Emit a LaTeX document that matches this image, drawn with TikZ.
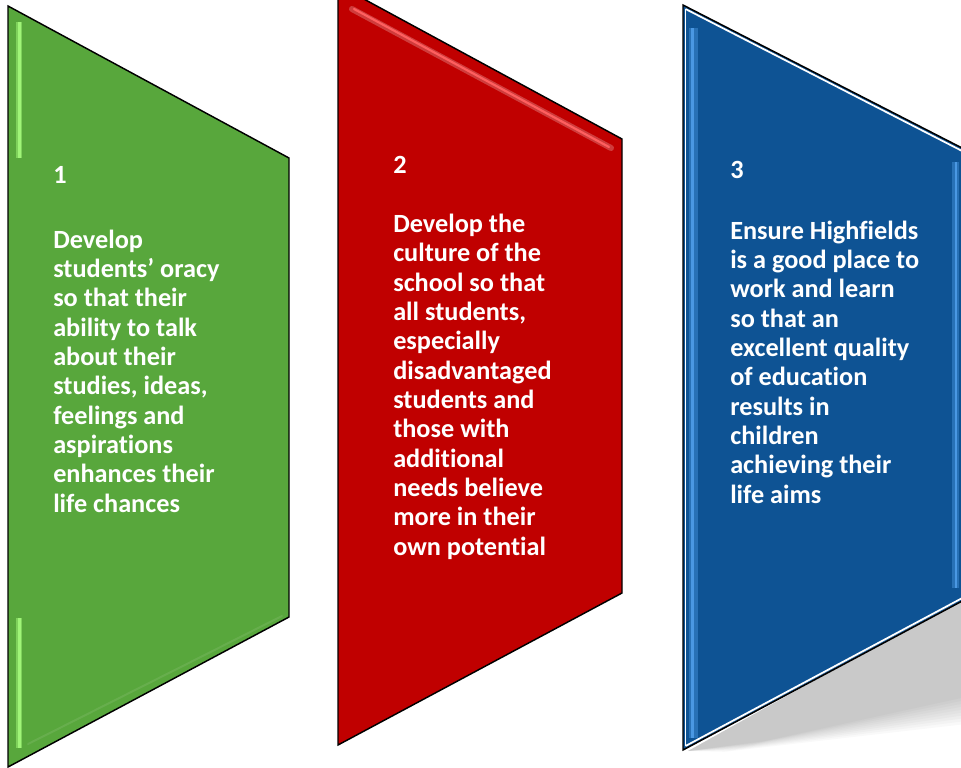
\documentclass[tikz,border=0pt]{standalone}
\usepackage{fontspec}
\setmainfont{Carlito}[Ligatures=NoCommon]
\definecolor{gfill}{RGB}{88,167,60}
\definecolor{glight}{RGB}{160,245,120}
\definecolor{rfill}{RGB}{192,0,0}
\definecolor{rlight}{RGB}{255,95,95}
\definecolor{bfill}{RGB}{14,83,148}
\definecolor{blight}{RGB}{80,160,235}
\begin{document}
\begin{tikzpicture}[x=0.75pt,y=-0.75pt,
  panel/.style={draw=black,line width=1.1pt,line join=miter},
  glow/.style={line width=4.5pt,opacity=0.55},
  glowcore/.style={line width=1.9pt},
  txt/.style={text=white,font=\bfseries\fontsize{19.7}{22}\selectfont,align=left,anchor=base west,inner sep=0pt},
  num/.style={text=white,font=\bfseries\fontsize{19.7}{22}\selectfont,anchor=base west,inner sep=0pt}]
\useasboundingbox (0,0) rectangle (961,768);
\begin{scope}
\clip (0,0) rectangle (961,768);
% shadow of the blue panel
\foreach \d in {0,3,...,27}{
  \fill[black,opacity=0.022] (688,751) -- (966,596) -- (966,{697+\d}) -- ({765-1.5*\d},{741+0.4*\d}) -- cycle;
}
% green panel
\fill[gfill] (8,6) -- (289,158) -- (289,617) -- (8,767) -- cycle;
\draw[glight,glow] (19,22) -- (19,158);
\draw[glight,glowcore] (19.5,22) -- (19.5,158);
\draw[glight,glow] (19,618) -- (19,748);
\draw[glight,glowcore] (19.5,618) -- (19.5,748);
\draw[gfill!85!white,line width=1.5pt,opacity=0.6,line cap=round] (28,744) -- (282,616);
\draw[panel] (8,6) -- (289,158) -- (289,617) -- (8,767) -- cycle;
% red panel
\fill[rfill] (338,-15) -- (622,139) -- (622,593) -- (338,745) -- cycle;
\draw[rfill!70!white,line width=4.5pt,line cap=round,opacity=0.8] (352,9) -- (611,148);
\draw[rlight,line width=1.6pt,line cap=round] (354,9) -- (609,147);
\draw[panel] (338,-15) -- (622,139) -- (622,593) -- (338,745) -- cycle;
% blue panel
\fill[bfill] (683,5) -- (966,150) -- (966,599) -- (683,750) -- cycle;
\draw[blight,line width=6.75pt,opacity=0.4] (693.5,28) -- (693.5,738);
\draw[blight,glowcore,opacity=0.85] (692.5,28) -- (692.5,738);
\draw[blight,line width=5.25pt,opacity=0.4] (955,162) -- (955,588);
\draw[blight,glowcore,opacity=0.85] (956,162) -- (956,588);
\draw[bfill!80!white,line width=1.2pt,opacity=0.6,line cap=round] (705,737) -- (950,606);
\draw[panel] (683,5) -- (966,150) -- (966,599) -- (683,750) -- cycle;
\draw[white,line width=1.3pt] (685.5,9) -- (966,153) (966,596) -- (685.5,746);
\draw[white,line width=1.3pt] (685.5,9) -- (685.5,746);
\end{scope}
% texts
\node[num] (n1) at (53,183) {1};
\node[txt] (t1) at (53,512) {Develop\\students’ oracy\\so that their\\ability to talk\\about their\\studies, ideas,\\feelings and\\aspirations\\enhances their\\life chances};
\node[num] (n2) at (393,173) {2};
\node[txt] (t2) at (393,555) {Develop the\\culture of the\\school so that\\all students,\\especially\\disadvantaged\\students and\\those with\\additional\\needs believe\\more in their\\own potential};
\node[num] (n3) at (730,178) {3};
\node[txt] (t3) at (730,503) {Ensure Highfields\\is a good place to\\work and learn\\so that an\\excellent quality\\of education\\results in\\children\\achieving their\\life aims};
\end{tikzpicture}
\end{document}
